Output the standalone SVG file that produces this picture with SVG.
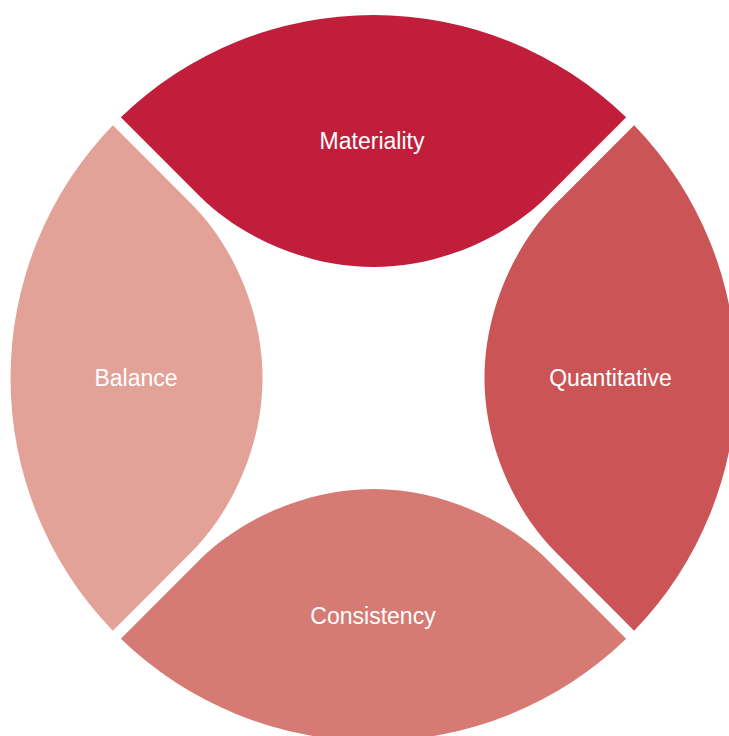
<svg xmlns="http://www.w3.org/2000/svg" width="729" height="736" viewBox="0 0 729 736">
  <defs>
    <!-- one quarter of the ring, pointing up, centred on the origin -->
    <path id="petal" d="M -252.65,-260.65 A 363 363 0 0 1 252.65,-260.65 L 173,-181 C 138,-146 73,-111 0,-111 C -73,-111 -138,-146 -173,-181 Z"/>
  </defs>
  <style>
    .label { font-family: "Liberation Sans", Arial, Helvetica, sans-serif; font-size: 23px; fill: #ffffff; text-anchor: middle; }
  </style>
  <rect width="729" height="736" fill="#ffffff"/>
  <g transform="translate(373.5,378)">
    <g id="materiality">
      <use href="#petal" fill="#C11E3C"/>
    </g>
    <g id="quantitative">
      <use href="#petal" fill="#CB5457" transform="rotate(90)"/>
    </g>
    <g id="consistency">
      <use href="#petal" fill="#D67B74" transform="rotate(180)"/>
    </g>
    <g id="balance">
      <use href="#petal" fill="#E2A297" transform="rotate(270)"/>
    </g>
  </g>
  <g id="labels">
    <text class="label" x="372" y="149">Materiality</text>
    <text class="label" x="610.5" y="386">Quantitative</text>
    <text class="label" x="373" y="623.5">Consistency</text>
    <text class="label" x="136" y="386">Balance</text>
  </g>
</svg>
